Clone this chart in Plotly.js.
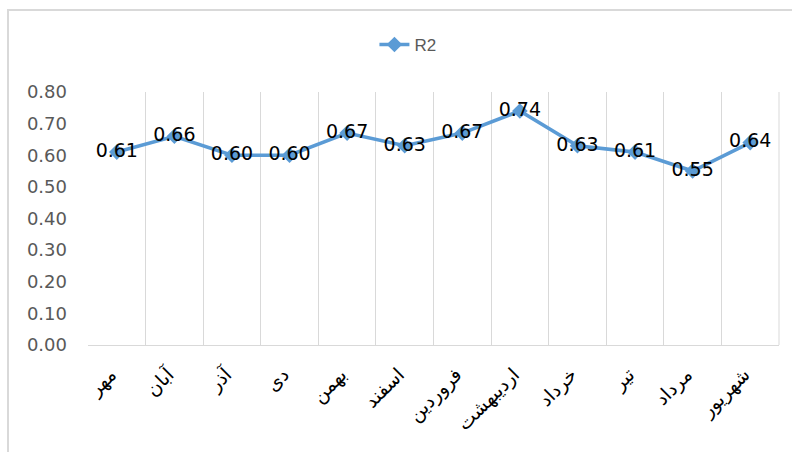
<!DOCTYPE html>
<html>
<head>
<meta charset="utf-8">
<script src="https://cdn.plot.ly/plotly-3.0.1.min.js"></script>
<style>
  html, body { margin: 0; padding: 0; background: #ffffff; }
  #chart { width: 792px; height: 452px; }
</style>
</head>
<body>
<div id="chart"></div>
<script>
const months = ["مهر", "آبان", "آذر", "دی", "بهمن", "اسفند", "فروردین", "اردیبهشت", "خرداد", "تیر", "مرداد", "شهریور"];
const r2Values = [0.61, 0.66, 0.60, 0.60, 0.67, 0.63, 0.67, 0.74, 0.63, 0.61, 0.55, 0.64];
const seriesName = "R2";
const yTickValues = [0, 0.1, 0.2, 0.3, 0.4, 0.5, 0.6, 0.7, 0.8];

const W = 792, H = 452;
const margin = {l: 88, r: 13, t: 92, b: 107};
const pw = W - margin.l - margin.r, ph = H - margin.t - margin.b;
// chart-area frame at (8,10) in pixels, converted to paper coords
const fx0 = (8 - margin.l) / pw;
const fy1 = (H - margin.b - 10) / ph;
const fx1 = (W + 20 - margin.l) / pw;
const fy0 = -(margin.b + 20) / ph;

const trace = {
  type: "scatter",
  mode: "lines+markers+text",
  name: seriesName,
  x: months,
  y: r2Values,
  text: r2Values.map(v => v.toFixed(2)),
  textposition: "middle center",
  textfont: {family: "DejaVu Sans", size: 19, color: "#000000"},
  line: {color: "#5B9BD5", width: 3.6},
  marker: {symbol: "diamond", size: 12, color: "#5B9BD5"},
  cliponaxis: false
};

const layout = {
  width: W, height: H,
  margin: margin,
  paper_bgcolor: "#ffffff",
  plot_bgcolor: "#ffffff",
  showlegend: true,
  legend: {
    orientation: "h", x: 0.463, xanchor: "center", y: (345 - 45) / ph, yanchor: "middle",
    bgcolor: "rgba(0,0,0,0)",
    font: {family: "Liberation Sans", size: 17, color: "#595959"}
  },
  xaxis: {
    type: "category",
    range: [-0.5, months.length - 0.5],
    tickson: "boundaries",
    showgrid: true, gridcolor: "#d9d9d9", gridwidth: 1,
    showline: true, linecolor: "#d9d9d9", linewidth: 1,
    ticks: "", tickangle: -45,
    ticklabelstandoff: 10,
    ticklabelshift: -6,
    tickfont: {family: "DejaVu Sans", size: 19, color: "#000000"},
    zeroline: false,
    fixedrange: true
  },
  yaxis: {
    range: [0, 0.8],
    tickvals: yTickValues,
    tickformat: ".2f",
    showgrid: false, zeroline: false, showline: false,
    ticks: "",
    ticklabelstandoff: 20,
    tickfont: {family: "DejaVu Sans", size: 18, color: "#595959"},
    fixedrange: true
  },
  shapes: [{
    type: "rect", xref: "paper", yref: "paper",
    x0: fx0, x1: fx1, y0: fy0, y1: fy1,
    line: {color: "#d9d9d9", width: 2},
    fillcolor: "rgba(0,0,0,0)",
    layer: "below"
  }, {
    type: "line", xref: "paper", yref: "paper",
    x0: 1, x1: 1, y0: 0, y1: 1,
    line: {color: "#d9d9d9", width: 1},
    layer: "below"
  }]
};

Plotly.newPlot("chart", [trace], layout, {displayModeBar: false, staticPlot: true});
</script>
</body>
</html>
